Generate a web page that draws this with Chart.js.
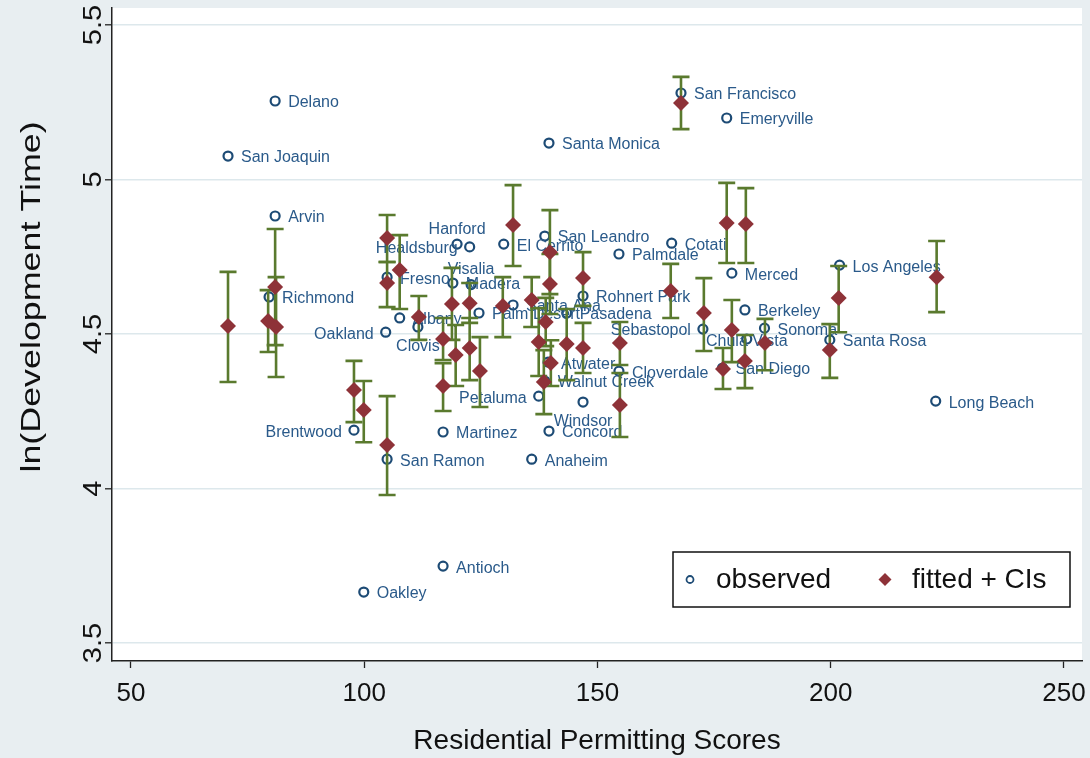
<!DOCTYPE html>
<html>
<head>
<meta charset="utf-8">
<title>Development time and residential permitting scores</title>
<script src="https://cdn.jsdelivr.net/npm/chart.js@4.4.1/dist/chart.umd.min.js"></script>
<style>
  html, body { margin: 0; padding: 0; background: #e8eef1; }
  #wrap { width: 1090px; height: 758px; }
</style>
</head>
<body>
<div id="wrap"><canvas id="chart" width="1090" height="758"></canvas></div>
<script>
// Observed cities
const cities = [
    'Delano', 'San Joaquin', 'Arvin', 'San Francisco', 'Emeryville', 'Santa Monica',
    'Hanford', 'Healdsburg', 'El Cerrito', 'San Leandro', 'Cotati', 'Palmdale',
    'Visalia', 'Madera', 'Fresno', 'Richmond', 'Rohnert Park', 'Palm Desert',
    'Santa Ana', 'Pasadena', 'Albany', 'Clovis', 'Oakland', 'Sebastopol',
    'Chula Vista', 'Berkeley', 'Sonoma', 'Santa Rosa', 'Los Angeles', 'Merced',
    'Long Beach', 'San Diego', 'Cloverdale', 'Atwater', 'Walnut Creek', 'Petaluma',
    'Windsor', 'Concord', 'Martinez', 'Brentwood', 'San Ramon', 'Anaheim',
    'Antioch', 'Oakley'
];
const obsScore = [
    80.9, 70.8, 80.9, 167.9, 177.7, 139.6,
    119.9, 122.6, 129.9, 138.7, 165.9, 154.6,
    122.9, 119.0, 104.9, 79.6, 146.9, 124.6,
    131.9, 143.4, 107.6, 111.5, 104.6, 172.6,
    182.0, 181.6, 185.8, 199.8, 201.9, 178.8,
    222.5, 176.8, 154.6, 139.4, 138.7, 137.4,
    146.9, 139.6, 116.9, 97.8, 104.9, 135.9,
    116.9, 99.9
];
const obsTime = [
    5.254, 5.076, 4.882, 5.280, 5.199, 5.118,
    4.791, 4.782, 4.791, 4.817, 4.794, 4.759,
    4.660, 4.665, 4.684, 4.620, 4.623, 4.568,
    4.594, 4.568, 4.552, 4.523, 4.506, 4.516,
    4.484, 4.578, 4.519, 4.481, 4.723, 4.697,
    4.283, 4.390, 4.380, 4.409, 4.348, 4.299,
    4.280, 4.186, 4.183, 4.189, 4.095, 4.095,
    3.749, 3.665
];
// where the name sits, as a clock position (3 right, 9 left, 12 above, 6 below, 0 centred)
const labelPos = [
    3, 3, 3, 3, 3, 3,
    12, 9, 3, 3, 3, 3,
    12, 3, 3, 3, 3, 3,
    3, 3, 3, 6, 9, 9,
    0, 3, 3, 3, 3, 3,
    3, 3, 3, 3, 3, 9,
    6, 3, 3, 9, 3, 3,
    3, 3
];

// Fitted values with confidence intervals
const fitScore = [
    70.8, 79.4, 80.9, 81.1, 97.8, 99.9, 104.9, 104.9, 104.9, 107.6, 111.7,
    116.9, 116.9, 118.8, 119.6, 122.6, 122.6, 124.8, 129.7, 131.9, 135.9,
    139.8, 139.8, 138.9, 137.4, 140.0, 138.5, 146.9, 143.4, 146.9, 154.8,
    154.8, 165.7, 172.8, 176.9, 178.8, 181.6, 185.9, 199.8, 201.7, 222.7,
    177.7, 181.8, 167.9
];
const fitTime = [
    4.526, 4.542, 4.652, 4.523, 4.319, 4.254, 4.811, 4.665, 4.141, 4.707, 4.555,
    4.484, 4.332, 4.597, 4.432, 4.600, 4.455, 4.380, 4.591, 4.853, 4.610,
    4.765, 4.662, 4.539, 4.474, 4.406, 4.345, 4.681, 4.468, 4.455, 4.471,
    4.270, 4.639, 4.568, 4.387, 4.513, 4.413, 4.471, 4.448, 4.617, 4.684,
    4.859, 4.856, 5.248
];
const ciLow = [
    4.345, 4.442, 4.464, 4.361, 4.215, 4.150, 4.733, 4.587, 3.979, 4.581, 4.481,
    4.416, 4.251, 4.481, 4.332, 4.536, 4.351, 4.264, 4.490, 4.720, 4.523,
    4.629, 4.565, 4.461, 4.364, 4.332, 4.241, 4.591, 4.351, 4.374, 4.400,
    4.167, 4.552, 4.445, 4.322, 4.409, 4.325, 4.383, 4.358, 4.506, 4.571,
    4.730, 4.730, 5.163
];
const ciHigh = [
    4.701, 4.642, 4.840, 4.684, 4.413, 4.348, 4.885, 4.733, 4.299, 4.820, 4.623,
    4.552, 4.406, 4.714, 4.529, 4.665, 4.552, 4.490, 4.684, 4.982, 4.684,
    4.901, 4.759, 4.617, 4.584, 4.480, 4.448, 4.765, 4.581, 4.536, 4.539,
    4.374, 4.727, 4.681, 4.455, 4.610, 4.497, 4.549, 4.532, 4.720, 4.801,
    4.989, 4.972, 5.332
];

const xTicks = [50, 100, 150, 200, 250];
const yTicks = [3.5, 4, 4.5, 5, 5.5];

const NAVY = '#1d4b75';
const LABEL_BLUE = '#2a5a8a';
const MAROON = '#8e3238';
const CI_GREEN = '#5a7a2e';
const OUTER_BG = '#e8eef1';
const FONT = '"Liberation Sans", Arial, Helvetica, sans-serif';

// Grey frame around a white plot region
const backdrop = {
    id: 'backdrop',
    beforeDraw(chart) {
        const { ctx, chartArea: a } = chart;
        ctx.save();
        ctx.fillStyle = OUTER_BG;
        ctx.fillRect(0, 0, chart.width, chart.height);
        ctx.fillStyle = '#ffffff';
        ctx.fillRect(a.left, a.top, a.right - a.left, a.bottom - a.top);
        ctx.restore();
    }
};

// City names next to the observed markers
const cityLabels = {
    id: 'cityLabels',
    afterDatasetDraw(chart, args) {
        if (args.index !== 0) return;
        const ctx = chart.ctx;
        ctx.save();
        ctx.font = '16px ' + FONT;
        ctx.fillStyle = LABEL_BLUE;
        ctx.textBaseline = 'middle';
        args.meta.data.forEach((pt, i) => {
            let dx = 13, dy = 2, align = 'left';
            const pos = labelPos[i];
            if (pos === 9) { dx = -12; align = 'right'; }
            else if (pos === 12) { dx = 0; dy = -15; align = 'center'; }
            else if (pos === 6) { dx = 0; dy = 20; align = 'center'; }
            else if (pos === 0) { dx = 0; dy = 3; align = 'center'; }
            ctx.textAlign = align;
            ctx.fillText(cities[i], pt.x + dx, pt.y + dy);
        });
        ctx.restore();
    }
};

// Capped confidence intervals, drawn under the fitted diamonds
const ciBars = {
    id: 'ciBars',
    beforeDatasetDraw(chart, args) {
        if (args.index !== 1) return;
        const { ctx, scales: { x, y } } = chart;
        const cap = 8.5;
        ctx.save();
        ctx.strokeStyle = CI_GREEN;
        ctx.lineWidth = 2.6;
        fitScore.forEach((s, i) => {
            const px = x.getPixelForValue(s);
            const lo = y.getPixelForValue(ciLow[i]);
            const hi = y.getPixelForValue(ciHigh[i]);
            ctx.beginPath();
            ctx.moveTo(px, lo);
            ctx.lineTo(px, hi);
            ctx.moveTo(px - cap, lo);
            ctx.lineTo(px + cap, lo);
            ctx.moveTo(px - cap, hi);
            ctx.lineTo(px + cap, hi);
            ctx.stroke();
        });
        ctx.restore();
    }
};

// Y tick labels and title turned on their side (the original is a little stretched vertically)
const yAxisText = {
    id: 'yAxisText',
    afterDraw(chart) {
        const { ctx, scales: { y } } = chart;
        ctx.save();
        ctx.fillStyle = '#111';
        ctx.textAlign = 'center';
        ctx.textBaseline = 'middle';
        ctx.font = '26px ' + FONT;
        y.ticks.forEach(t => {
            ctx.save();
            ctx.translate(y.right - 18, y.getPixelForValue(t.value));
            ctx.rotate(-Math.PI / 2);
            ctx.scale(1.12, 1);
            ctx.fillText(String(t.value), 0, 0);
            ctx.restore();
        });
        ctx.font = '28px ' + FONT;
        ctx.translate(32, y.getPixelForValue(4.62));
        ctx.rotate(-Math.PI / 2);
        ctx.scale(1.28, 1);
        ctx.fillText('ln(Development Time)', 0, 0);
        ctx.restore();
    }
};

// Boxed legend in the lower right of the plot
const boxLegend = {
    id: 'boxLegend',
    afterDraw(chart) {
        const { ctx, chartArea: a } = chart;
        const w = 397, h = 55;
        const left = a.right - 409, top = a.bottom - 109;
        const mid = top + h / 2;
        ctx.save();
        ctx.fillStyle = '#fff';
        ctx.fillRect(left, top, w, h);
        ctx.strokeStyle = '#111';
        ctx.lineWidth = 1.5;
        ctx.strokeRect(left, top, w, h);

        ctx.strokeStyle = NAVY;
        ctx.lineWidth = 1.8;
        ctx.beginPath();
        ctx.arc(left + 17, mid, 3.5, 0, Math.PI * 2);
        ctx.stroke();

        ctx.fillStyle = MAROON;
        ctx.beginPath();
        ctx.moveTo(left + 212, mid - 6.5);
        ctx.lineTo(left + 218.5, mid);
        ctx.lineTo(left + 212, mid + 6.5);
        ctx.lineTo(left + 205.5, mid);
        ctx.closePath();
        ctx.fill();

        ctx.fillStyle = '#111';
        ctx.font = '28px ' + FONT;
        ctx.textAlign = 'left';
        ctx.textBaseline = 'middle';
        ctx.fillText('observed', left + 43, mid + 1);
        ctx.fillText('fitted + CIs', left + 239, mid + 1);
        ctx.restore();
    }
};

const ctx = document.getElementById('chart').getContext('2d');

new Chart(ctx, {
    type: 'scatter',
    data: {
        datasets: [{
            label: 'observed',
            data: cities.map((c, i) => ({ x: obsScore[i], y: obsTime[i] })),
            pointStyle: 'circle',
            pointRadius: 4.5,
            borderWidth: 2.2,
            borderColor: NAVY,
            backgroundColor: 'rgba(0,0,0,0)',
            order: 2
        }, {
            label: 'fitted + CIs',
            data: fitScore.map((s, i) => ({ x: s, y: fitTime[i] })),
            pointStyle: 'rectRot',
            pointRadius: 8,
            borderWidth: 0,
            borderColor: MAROON,
            backgroundColor: MAROON,
            order: 1
        }]
    },
    options: {
        responsive: false,
        maintainAspectRatio: false,
        animation: false,
        devicePixelRatio: 1,
        layout: {
            padding: { top: 8, right: 8, bottom: 0, left: 0 }
        },
        scales: {
            x: {
                type: 'linear',
                position: 'bottom',
                min: 45.93,
                max: 253.86,
                afterBuildTicks: s => { s.ticks = xTicks.map(v => ({ value: v })); },
                afterFit: s => {
                    s.height = 97;
                    s.paddingLeft = 0;
                    s.paddingRight = 0;
                },
                grid: {
                    drawOnChartArea: false,
                    tickLength: 7,
                    tickColor: '#222',
                    tickWidth: 1.3
                },
                border: { color: '#222', width: 1.5 },
                ticks: {
                    font: { size: 26, family: FONT },
                    color: '#111',
                    padding: 10,
                    maxRotation: 0
                },
                title: {
                    display: true,
                    text: 'Residential Permitting Scores',
                    font: { size: 28, family: FONT },
                    color: '#111',
                    padding: { top: 0, bottom: 0 }
                }
            },
            y: {
                type: 'linear',
                min: 3.442,
                max: 5.555,
                afterBuildTicks: s => { s.ticks = yTicks.map(v => ({ value: v })); },
                afterFit: s => {
                    s.width = 112;
                    s.paddingTop = 0;
                    s.paddingBottom = 0;
                },
                grid: {
                    color: '#dde8ec',
                    lineWidth: 1.6,
                    tickLength: 7,
                    tickColor: '#222',
                    tickWidth: 1.3
                },
                border: { color: '#222', width: 1.5 },
                ticks: { display: false },
                title: { display: false }
            }
        },
        plugins: {
            legend: { display: false },
            tooltip: { enabled: false }
        }
    },
    plugins: [backdrop, ciBars, cityLabels, yAxisText, boxLegend]
});
</script>
</body>
</html>
